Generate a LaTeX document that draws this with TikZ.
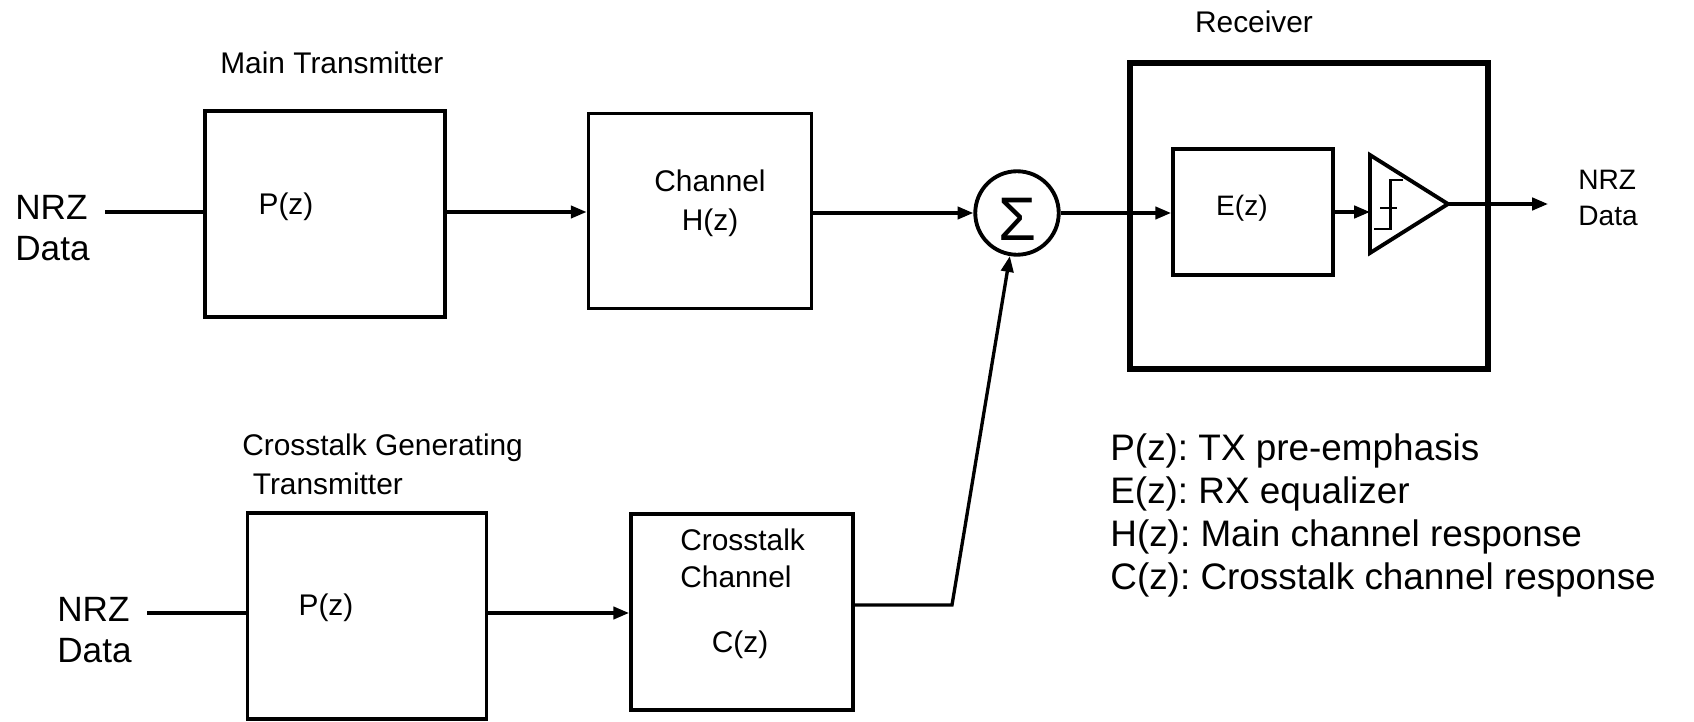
\documentclass[tikz,border=0pt]{standalone}
\usepackage{fontspec}
\setmainfont{Liberation Sans}
\usetikzlibrary{arrows.meta}

\begin{document}
\begin{tikzpicture}[x=0.02cm, y=-0.02cm,
    block/.style={draw, line width=2.2pt, inner sep=0pt},
    lbl/.style={inner sep=0pt, align=left, font=\fontsize{17}{22}\selectfont},
    wire/.style={line width=1.9pt},
    arr/.style={wire, -{Triangle[length=9pt,width=7pt]}}]
    \useasboundingbox (0,0) rectangle (1694,722);

    % main transmitter and channel
    \node[lbl, anchor=west] (mainlbl) at (220,63) {Main Transmitter};
    \node[lbl, anchor=west, font=\fontsize{20}{23}\selectfont] (nrz1) at (15,228) {NRZ\\Data};
    \coordinate (in1) at (105,212);
    \node[block, minimum width=4.8cm, minimum height=4.12cm] (tx1) at (325,214) {};
    \node[lbl] (pz1) at (286,207) {P(z)};
    \node[block, minimum width=4.46cm, minimum height=3.9cm] (ch1) at (700,211) {};
    \node[lbl, align=center] (hz) at (710,203) {Channel\\H(z)};
    \node[draw, circle, line width=2.2pt, minimum size=1.67cm, inner sep=0pt,
        text height=31pt, text depth=0pt, font=\fontsize{35}{35}\selectfont] (sum) at (1017,213) {Σ};

    % receiver
    \node[lbl] (rxlbl) at (1254,22) {Receiver};
    \node[draw, line width=3.4pt, minimum width=7.16cm, minimum height=6.12cm] (rx) at (1309,216) {};
    \node[block, minimum width=3.2cm, minimum height=2.52cm] (eq) at (1253,212) {};
    \node[lbl, font=\fontsize{16}{20}\selectfont] (ez) at (1242,208) {E(z)};
    \draw[line width=2.2pt] (1370,155) -- (1448,204) -- (1370,253) -- cycle;
    \draw[line width=1.7pt] (1374,229) -- (1390,229) -- (1390,180) -- (1403,180)
        (1380,208) -- (1397,208);
    \coordinate (cmpin) at (1370,212);
    \coordinate (cmpout) at (1448,204);
    \coordinate (out) at (1548,204);
    \node[lbl, anchor=west, font=\fontsize{16}{21}\selectfont] (nrz3) at (1578,198) {NRZ\\Data};

    % crosstalk transmitter and channel
    \node[lbl, anchor=west] (xtlbl) at (242,464) {Crosstalk Generating\\\hspace*{6pt}Transmitter};
    \node[lbl, anchor=west, font=\fontsize{20}{23}\selectfont] (nrz2) at (57,630) {NRZ\\Data};
    \coordinate (in2) at (147,613);
    \node[block, minimum width=4.78cm, minimum height=4.12cm] (tx2) at (367,616) {};
    \node[lbl] (pz2) at (326,608) {P(z)};
    \node[block, minimum width=4.44cm, minimum height=3.92cm] (ch2) at (742,612) {};
    \node[lbl, anchor=west, font=\fontsize{17}{21}\selectfont] (xtch) at (680,558) {Crosstalk\\Channel};
    \node[lbl] (cz) at (740,645) {C(z)};
    \coordinate (bend) at (952,605);

    % connections
    \draw[wire] (in1) -- (in1 -| tx1.west);
    \draw[arr] (in1 -| tx1.east) -- (in1 -| ch1.west);
    \draw[arr] (ch1.east |- sum) -- (sum);
    \draw[arr] (sum.east) -- (sum.east -| eq.west);
    \draw[arr] (eq.east) -- (eq.east -| cmpin);
    \draw[arr] (cmpout) -- (out);
    \draw[wire] (in2) -- (in2 -| tx2.west);
    \draw[arr] (in2 -| tx2.east) -- (in2 -| ch2.west);
    \draw[arr] (ch2.east |- bend) -- (bend) -- (sum);

    % legend
    \foreach \fn/\desc [count=\i] in {P(z)/TX pre-emphasis, E(z)/RX equalizer,
        H(z)/Main channel response, C(z)/Crosstalk channel response}
        \node[lbl, anchor=base west, font=\fontsize{21}{24}\selectfont\frenchspacing] (key\i) at (1110,{461+43*(\i-1)}) {\fn: \desc};
\end{tikzpicture}
\end{document}
